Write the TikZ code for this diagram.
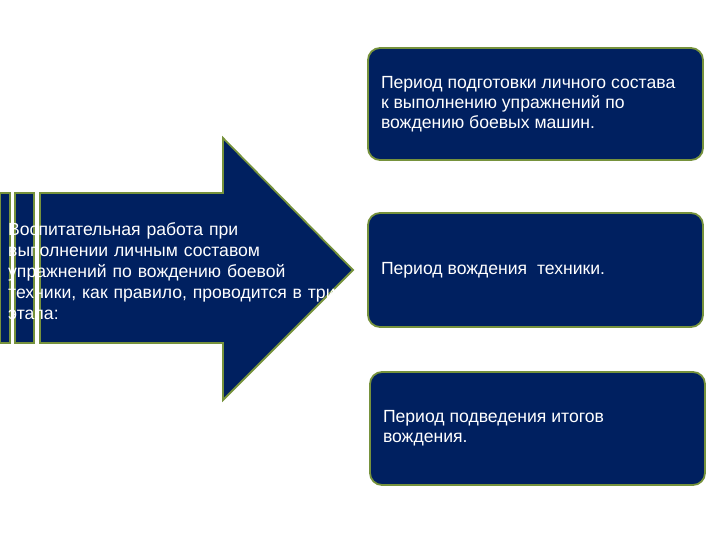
\documentclass[tikz,border=0pt]{standalone}
\usepackage{fontspec}
\setmainfont{Liberation Sans}
\definecolor{navy}{RGB}{0,32,96}
\definecolor{olive}{RGB}{118,146,60}
\newcommand\periodtext[1]{\parbox{309pt}{\raggedright #1}}
\begin{document}
\begin{tikzpicture}[x=1pt,y=-1pt,
  shapefill/.style={fill=navy,draw=olive,line width=1.8pt,line join=miter},
  period/.style={shapefill,rounded corners=12pt,minimum width=335pt,
    text=white,font=\fontsize{17.6}{20}\selectfont,inner sep=0pt},
  arrowtext/.style={text=white,font=\fontsize{17.6}{21}\selectfont,align=left,text width=360pt,inner sep=0pt,anchor=west}]
\useasboundingbox (0,0) rectangle (720,540);
% striped arrow
\path[shapefill] (0,193) rectangle (10,343);
\path[shapefill] (15,193) rectangle (34,343);
\path[shapefill] (40,193) -- (223,193) -- (223,138) -- (353,270) -- (223,400) -- (223,343) -- (40,343) -- cycle;
\node[arrowtext] (intro) at (8,271) {Воспитательная работа при\\выполнении личным составом\\упражнений по вождению боевой\\техники, как правило, проводится в три\\этапа:};
\fill[white] (10.9,185) rectangle (14.1,350);
\fill[white] (34.9,185) rectangle (39.1,350);
% period boxes
\node[period,minimum height=112pt] (p1) at (535.5,104) {\periodtext{Период подготовки личного состава\\к выполнению упражнений по\\вождению боевых машин.}};
\node[period,minimum height=114pt] (p2) at (535.5,270) {\periodtext{Период вождения~ техники.}};
\node[period,minimum height=113pt] (p3) at (537.5,428.5) {\raisebox{-3pt}{\periodtext{Период подведения итогов\\вождения.}}};
\end{tikzpicture}
\end{document}
